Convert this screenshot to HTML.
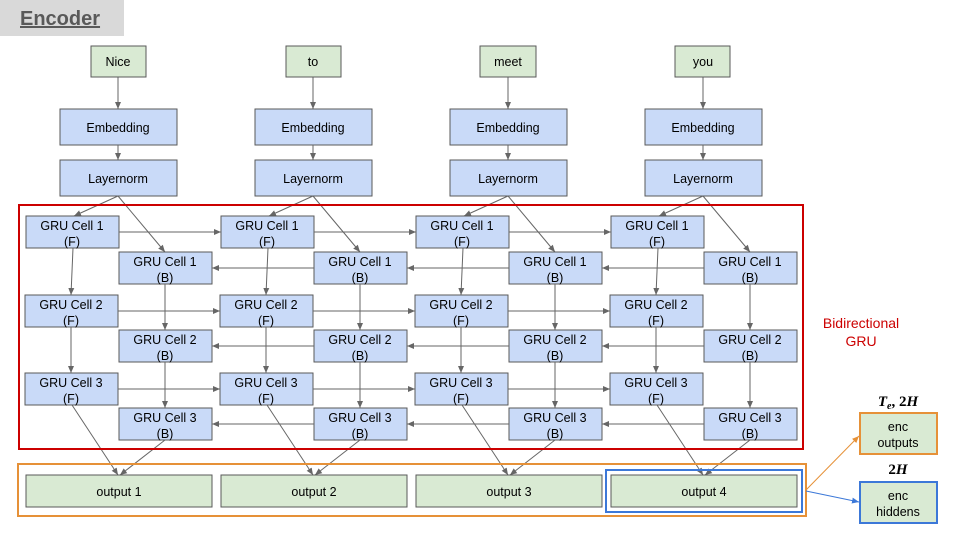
<!DOCTYPE html>
<html><head><meta charset="utf-8"><style>
body{margin:0;background:#fff}
svg{display:block;font-family:"Liberation Sans",Arial,sans-serif}
.w{fill:#d9ead3;stroke:#595959;stroke-width:1}
.b{fill:#c9daf8;stroke:#595959;stroke-width:1}
.t{font-size:12.5px;fill:#000;text-anchor:middle}
.l{stroke:#666;stroke-width:1;fill:none;marker-end:url(#a)}
</style></head><body>
<svg width="960" height="540" viewBox="0 0 960 540">
<defs>
<marker id="a" markerWidth="8" markerHeight="8" refX="7" refY="4" orient="auto" markerUnits="userSpaceOnUse"><path d="M0,1 L7,4 L0,7 z" fill="#666"/></marker>
<marker id="ao" markerWidth="8" markerHeight="8" refX="7" refY="4" orient="auto" markerUnits="userSpaceOnUse"><path d="M0,1 L7,4 L0,7 z" fill="#e69138"/></marker>
<marker id="ab" markerWidth="8" markerHeight="8" refX="7" refY="4" orient="auto" markerUnits="userSpaceOnUse"><path d="M0,1 L7,4 L0,7 z" fill="#3c78d8"/></marker>
<g id="col">
<line class="l" x1="118" y1="77" x2="118" y2="109"/>
<rect class="b" x="60" y="109" width="117" height="36"/><text class="t" x="118" y="132">Embedding</text>
<line class="l" x1="118" y1="145" x2="118" y2="160"/>
<rect class="b" x="60" y="160" width="117" height="36"/><text class="t" x="118" y="183">Layernorm</text>
<line class="l" x1="118" y1="196" x2="74" y2="216"/>
<line class="l" x1="118" y1="196" x2="165" y2="252"/>
<rect class="b" x="26" y="216" width="93" height="32"/><text class="t" x="72" y="230">GRU Cell 1</text><text class="t" x="72" y="246">(F)</text>
<rect class="b" x="119" y="252" width="93" height="32"/><text class="t" x="165" y="266">GRU Cell 1</text><text class="t" x="165" y="282">(B)</text>
<rect class="b" x="25" y="295" width="93" height="32"/><text class="t" x="71" y="309">GRU Cell 2</text><text class="t" x="71" y="325">(F)</text>
<rect class="b" x="119" y="330" width="93" height="32"/><text class="t" x="165" y="344">GRU Cell 2</text><text class="t" x="165" y="360">(B)</text>
<rect class="b" x="25" y="373" width="93" height="32"/><text class="t" x="71" y="387">GRU Cell 3</text><text class="t" x="71" y="403">(F)</text>
<rect class="b" x="119" y="408" width="93" height="32"/><text class="t" x="165" y="422">GRU Cell 3</text><text class="t" x="165" y="438">(B)</text>
<line class="l" x1="73" y1="248" x2="71" y2="295"/>
<line class="l" x1="71" y1="327" x2="71" y2="373"/>
<line class="l" x1="165" y1="284" x2="165" y2="330"/>
<line class="l" x1="165" y1="362" x2="165" y2="408"/>
<line class="l" x1="72" y1="405" x2="118" y2="475"/>
<line class="l" x1="165" y1="440" x2="120" y2="475"/>
<rect class="w" x="26" y="475" width="186" height="32"/>
</g>
<g id="h">
<line class="l" x1="119" y1="232" x2="221" y2="232"/>
<line class="l" x1="118" y1="311" x2="220" y2="311"/>
<line class="l" x1="118" y1="389" x2="220" y2="389"/>
<line class="l" x1="314" y1="268" x2="212" y2="268"/>
<line class="l" x1="314" y1="346" x2="212" y2="346"/>
<line class="l" x1="314" y1="424" x2="212" y2="424"/>
</g>
</defs>
<rect x="0" y="0" width="124" height="36" fill="#d9d9d9"/>
<text x="20" y="25" font-size="20" font-weight="bold" fill="#595959" text-decoration="underline">Encoder</text>
<use href="#col"/><use href="#col" x="195"/><use href="#col" x="390"/><use href="#col" x="585"/>
<use href="#h"/><use href="#h" x="195"/><use href="#h" x="390"/>
<rect class="w" x="91" y="46" width="55" height="31"/><text class="t" x="118" y="66">Nice</text>
<rect class="w" x="286" y="46" width="55" height="31"/><text class="t" x="313" y="66">to</text>
<rect class="w" x="480" y="46" width="56" height="31"/><text class="t" x="508" y="66">meet</text>
<rect class="w" x="675" y="46" width="55" height="31"/><text class="t" x="703" y="66">you</text>
<text class="t" x="119" y="496">output 1</text>
<text class="t" x="314" y="496">output 2</text>
<text class="t" x="509" y="496">output 3</text>
<text class="t" x="704" y="496">output 4</text>
<rect x="19" y="205" width="784" height="244" fill="none" stroke="#cc0000" stroke-width="2"/>
<text x="861" y="328" font-size="14" fill="#cc0000" text-anchor="middle">Bidirectional</text>
<text x="861" y="346" font-size="14" fill="#cc0000" text-anchor="middle">GRU</text>
<rect x="18" y="464" width="788" height="52" fill="none" stroke="#e69138" stroke-width="2"/>
<rect x="606" y="470" width="196" height="42" fill="none" stroke="#3c78d8" stroke-width="2"/>
<line x1="806" y1="490" x2="859" y2="436" stroke="#e69138" stroke-width="1" marker-end="url(#ao)"/>
<line x1="806" y1="491" x2="859" y2="502" stroke="#3c78d8" stroke-width="1" marker-end="url(#ab)"/>
<rect x="860" y="413" width="77" height="41" fill="#d9ead3" stroke="#e69138" stroke-width="2"/>
<text class="t" x="898" y="431">enc</text><text class="t" x="898" y="447">outputs</text>
<rect x="860" y="482" width="77" height="41" fill="#d9ead3" stroke="#3c78d8" stroke-width="2"/>
<text class="t" x="898" y="500">enc</text><text class="t" x="898" y="516">hiddens</text>
<text x="898" y="406" font-size="15" font-family="Liberation Serif,serif" text-anchor="middle" font-weight="bold"><tspan font-style="italic">T</tspan><tspan font-size="10" dy="3" font-style="italic">e</tspan><tspan dy="-3">, 2</tspan><tspan font-style="italic">H</tspan></text>
<text x="898" y="474" font-size="15" font-family="Liberation Serif,serif" text-anchor="middle" font-weight="bold">2<tspan font-style="italic">H</tspan></text>
</svg>
</body></html>
